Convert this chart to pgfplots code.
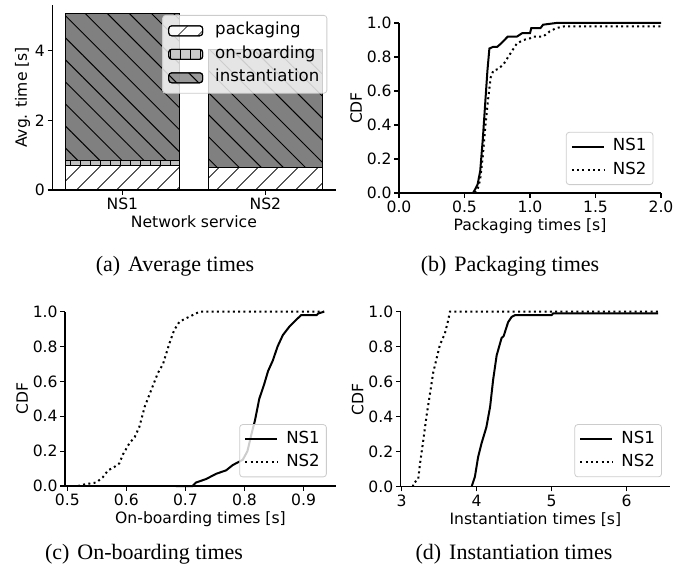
\documentclass[border=0pt]{standalone}
\usepackage{fontspec}
\setmainfont{Liberation Serif}
\newfontfamily\dv{DejaVu Sans}
\usepackage{pgfplots}
\pgfplotsset{compat=1.18}
\usetikzlibrary{patterns.meta}
\newcommand\tf{\dv\fontsize{7.8}{9}\selectfont}
\newcommand\lf{\dv\fontsize{8.3}{9.5}\selectfont}
\pgfplotsset{
  mpl/.style={
    scale only axis,
    anchor=south west,
    axis x line*=bottom,
    axis y line*=left,
    axis line style={-, line width=0.55pt, black},
    tick align=outside,
    major tick length=2.3pt,
    tick style={line width=0.55pt, black},
    tick label style={font=\tf},
    xticklabel style={inner sep=1.5pt},
    yticklabel style={inner sep=1.2pt},
    every axis x label/.style={at={(ticklabel cs:0.5)}, anchor=near ticklabel, inner sep=1.2pt, font=\tf},
    every axis y label/.style={at={(ticklabel cs:0.5)}, rotate=90, anchor=near ticklabel, inner sep=1pt, font=\tf},
    /pgf/number format/assume math mode=true,
    legend cell align=left,
    clip=false,
    legend style={font=\lf, draw=black!20, rounded corners=1.5pt, fill=white, fill opacity=0.8, text opacity=1, draw opacity=1,
      inner xsep=2.3pt, inner ysep=2.3pt, row sep=1.95pt,
      /tikz/every odd column/.append style={column sep=3pt},
      nodes={inner sep=1pt, text height=6pt, text depth=1.8pt}},
  },
  cdf/.style={
    mpl,
    ymin=0, ymax=1,
    ytick={0,0.2,0.4,0.6,0.8,1},
    yticklabels={0.0,0.2,0.4,0.6,0.8,1.0},
    ylabel={CDF},
    legend image code/.code={\draw[##1] (0pt,0pt) -- (16pt,0pt);},
  },
  ns1/.style={black, line width=1pt},
  ns2/.style={black, line width=1pt, dash pattern=on 1pt off 1.65pt},
}
\begin{document}
\begin{tikzpicture}
\path[use as bounding box] (0,0) rectangle (345.5pt,284pt);

% (a)
\begin{axis}[mpl, at={(26.15pt,189pt)}, width=141.6pt, height=92.5pt,
  ybar stacked, bar width=0.8,
  xmin=-0.49, xmax=1.49, ymin=0, ymax=5.31,
  xtick={0,1}, xticklabels={NS1,NS2},
  ytick={0,2,4}, yticklabels={0,2,4},
  xlabel={Network service}, ylabel={Avg. time [s]},
  legend style={at={(0.971,0.946)}, anchor=north east, inner xsep=2.8pt, inner ysep=2.8pt,
    /tikz/every odd column/.append style={column sep=5pt}},
  every axis plot post/.append style={legend image code/.code={\draw[##1] (0pt,-2.5pt) rectangle (17pt,2.5pt);}},
]
\addplot[draw=black, line width=0.5pt, fill=white, postaction={pattern={Lines[angle=45,distance=7.4pt,line width=0.5pt]}}]
  coordinates {(0,0.69) (1,0.64)};
\addplot[draw=black, line width=0.5pt, fill=lightgray, postaction={pattern={Lines[angle=90,distance=5pt,line width=0.5pt]}}]
  coordinates {(0,0.145) (1,0)};
\addplot[draw=black, line width=0.5pt, fill=gray, postaction={pattern={Lines[angle=-45,distance=7.8pt,line width=0.5pt]}}]
  coordinates {(0,4.23) (1,3.38)};
\legend{packaging,on-boarding,instantiation}
\end{axis}

% (b)
\begin{axis}[cdf, at={(199.5pt,187.5pt)}, width=131pt, height=85pt,
  xmin=0, xmax=2, xtick={0,0.5,1,1.5,2}, xticklabels={0.0,0.5,1.0,1.5,2.0},
  xlabel={Packaging times [s]},
  legend style={at={(0.971,0.047)}, anchor=south east},
]
\addplot[ns1] coordinates {
(0.565,0) (0.58,0.02) (0.60,0.05) (0.62,0.13) (0.64,0.32) (0.66,0.55) (0.675,0.72) (0.69,0.85)
(0.72,0.86) (0.75,0.86) (0.78,0.88) (0.83,0.92) (0.90,0.92) (0.94,0.94) (1.00,0.94) (1.01,0.97)
(1.08,0.97) (1.10,0.99) (1.20,1.0) (2.0,1.0)};
\addplot[ns2] coordinates {
(0.58,0) (0.60,0.02) (0.62,0.08) (0.64,0.22) (0.66,0.40) (0.68,0.55) (0.70,0.68) (0.72,0.72)
(0.76,0.73) (0.80,0.76) (0.85,0.82) (0.90,0.88) (0.95,0.90) (1.00,0.91) (1.02,0.92) (1.10,0.92)
(1.15,0.95) (1.20,0.97) (1.26,0.98) (2.0,0.98)};
\legend{NS1,NS2}
\end{axis}

% (c)
\begin{axis}[cdf, at={(32.5pt,41pt)}, width=135.5pt, height=87.15pt,
  xmin=0.496, xmax=0.955, xtick={0.5,0.6,0.7,0.8,0.9}, xticklabels={0.5,0.6,0.7,0.8,0.9},
  xlabel={On-boarding times [s]},
  legend style={at={(0.966,0.05)}, anchor=south east},
]
\addplot[ns1] coordinates {
(0.684,0) (0.712,0) (0.718,0.02) (0.735,0.04) (0.752,0.07) (0.769,0.09) (0.780,0.12) (0.797,0.15)
(0.805,0.20) (0.812,0.30) (0.818,0.38) (0.825,0.50) (0.833,0.58) (0.840,0.66) (0.848,0.72)
(0.856,0.80) (0.865,0.866) (0.876,0.914) (0.887,0.952) (0.896,0.98) (0.922,0.98) (0.925,0.99) (0.935,1.0)};
\addplot[ns2] coordinates {
(0.518,0) (0.53,0.01) (0.549,0.02) (0.56,0.05) (0.569,0.09) (0.58,0.11) (0.588,0.13) (0.594,0.18)
(0.605,0.245) (0.614,0.28) (0.622,0.34) (0.631,0.455) (0.642,0.55) (0.653,0.646) (0.662,0.70)
(0.673,0.82) (0.681,0.895) (0.690,0.943) (0.701,0.962) (0.712,0.98) (0.724,1.0) (0.935,1.0)};
\legend{NS1,NS2}
\end{axis}

% (d)
\begin{axis}[cdf, at={(200.35pt,40.65pt)}, width=134.65pt, height=87.5pt,
  xmin=2.987, xmax=6.58, xtick={3,4,5,6}, xticklabels={3,4,5,6},
  xlabel={Instantiation times [s]},
  legend style={at={(0.97,0.054)}, anchor=south east},
]
\addplot[ns1] coordinates {
(3.933,0) (3.977,0.057) (4.02,0.17) (4.067,0.25) (4.13,0.34) (4.18,0.457) (4.22,0.61) (4.267,0.75)
(4.333,0.85) (4.36,0.86) (4.42,0.94) (4.467,0.97) (4.51,0.98) (5.0,0.98) (5.02,0.99) (6.42,0.99)};
\addplot[ns2] coordinates {
(3.15,0) (3.155,0.02) (3.22,0.04) (3.244,0.13) (3.29,0.27) (3.33,0.40) (3.377,0.53) (3.42,0.65)
(3.47,0.74) (3.51,0.81) (3.577,0.876) (3.62,0.95) (3.644,1.0) (6.42,1.0)};
\legend{NS1,NS2}
\end{axis}

\node[anchor=base, font=\fontsize{11}{13}\selectfont] at (87.5pt,148pt) {(a)\hskip 4pt Average times};
\node[anchor=base, font=\fontsize{11}{13}\selectfont] at (255pt,148pt) {(b)\hskip 4pt Packaging times};
\node[anchor=base, font=\fontsize{11}{13}\selectfont] at (72pt,4.5pt) {(c)\hskip 4pt On-boarding times};
\node[anchor=base, font=\fontsize{11}{13}\selectfont] at (257pt,4.5pt) {(d)\hskip 4pt Instantiation times};
\end{tikzpicture}
\end{document}
